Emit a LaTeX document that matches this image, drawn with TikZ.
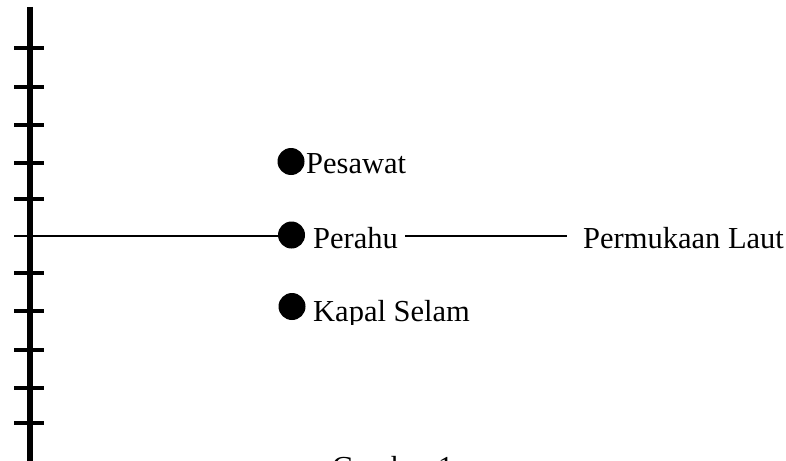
\documentclass[tikz,border=0pt]{standalone}
\usepackage{fontspec}
\setmainfont{Liberation Serif}
\begin{document}
\begin{tikzpicture}[x=1pt,y=-1pt,
  dotnode/.style={circle,fill=black,draw=none,inner sep=0pt,minimum size=27pt},
  lbl/.style={anchor=base west,inner sep=0pt,font=\fontsize{30.5}{36}\selectfont},
  axisline/.style={line width=6pt},
  tickline/.style={line width=4pt},
  sealine/.style={line width=1.3pt}]
\useasboundingbox (0,0) rectangle (786,460);
\clip (0,0) rectangle (786,460);
% vertical axis
\coordinate (axtop) at (30,7);
\coordinate (axbot) at (30,470);
\draw[axisline] (axtop) -- (axbot);
\foreach \y [count=\i] in {48.5,87,125,163,199,273,311,350,388,423}{
  \coordinate (tl\i) at (14,\y);
  \coordinate (tr\i) at (44,\y);
  \draw[tickline] (tl\i) -- (tr\i);
}
% dots
\node[dotnode] (dpes) at (291,161.5) {};
\node[dotnode] (dper) at (291.5,235) {};
\node[dotnode] (dkap) at (292,306.5) {};
% labels
\node[lbl] (pesawat) at (306,173) {Pesawat};
\node[lbl] (perahu) at (313,248) {Perahu};
\node[lbl] (laut) at (583,248) {Permukaan Laut};
\node[lbl] (gambar) at (332,477) {Gambar 1};
\begin{scope}
\clip (300,280) rectangle (500,324);
\node[lbl] (kapal) at (313,321) {Kapal Selam};
\end{scope}
% sea level lines
\coordinate (seastart) at (14,236);
\draw[sealine] (seastart) -- (seastart -| dper.west);
\coordinate (s1) at (405,236);
\coordinate (s2) at (567,236);
\draw[sealine] (s1) -- (s2);
\end{tikzpicture}
\end{document}
